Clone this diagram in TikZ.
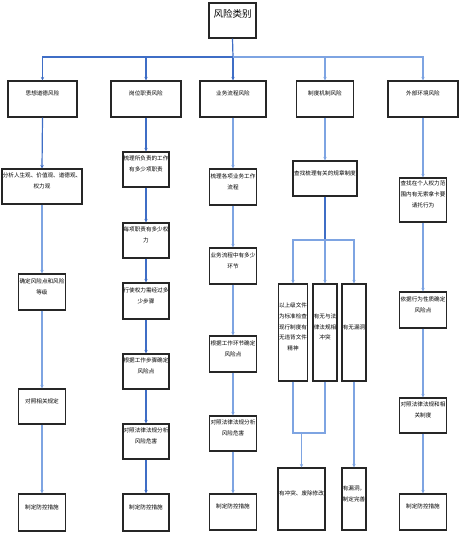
\documentclass[tikz,border=0pt]{standalone}
\usepackage{fontspec}
\setmainfont{Noto Sans CJK SC}
\usetikzlibrary{arrows.meta}
\definecolor{dblue}{HTML}{3F6EC6}
\definecolor{lblue}{HTML}{7EA4E2}
\newcommand\mybox[6]{%
  \node[boxstyle,minimum width=#4pt,minimum height=#5pt] (#1) at (#2,#3) {};
  \node[txtstyle] at ([yshift=5.5pt]#1.center) {#6};}
\begin{document}
\begin{tikzpicture}[x=1pt,y=-1pt,
  boxstyle/.style={draw=black!85,line width=1.1pt,fill=white,inner sep=0pt},
  txtstyle/.style={font=\fontsize{5.6}{10.8}\selectfont,align=center,inner sep=0pt},
  dk/.style={draw=dblue,line width=1.2pt},
  lt/.style={draw=lblue,line width=1.2pt},
  arr/.style={-{Stealth[length=3.5pt,width=3.5pt]}}]
\useasboundingbox (0,0) rectangle (460,533);
% top
\node[boxstyle,minimum width=47pt,minimum height=35pt] (T) at (232.5,20.5) {};
\node[inner sep=0pt,font=\fontsize{9.5}{11}\selectfont] at ([yshift=7pt]T.center) {风险类别};
% level 1
\mybox{A1}{42.5}{99}{69}{36}{思想道德风险}
\mybox{B1}{146}{99}{70}{36}{岗位职责风险}
\mybox{C1}{233}{99}{66}{36}{业务流程风险}
\mybox{D1}{325}{99}{57}{36}{制度机制风险}
\mybox{E1}{423}{99}{70}{36}{外部环境风险}
% column 1
\mybox{A2}{42}{186.5}{80}{35}{分析人生观、价值观、道德观、\\权力观}
\mybox{A3}{42}{292}{47}{36}{确定风险点和风险\\等级}
\mybox{A4}{42}{406.5}{47}{35}{对照相关规定}
\mybox{A5}{42}{512.5}{47}{37}{制定防控措施}
% column 2
\mybox{B2}{146}{169.5}{46}{35}{梳理所负责的工作\\有多少项职责}
\mybox{B3}{146}{240.5}{46}{35}{每项职责有多少权\\力}
\mybox{B4}{146}{301}{46}{36}{行使权力需经过多\\少步骤}
\mybox{B5}{146}{371.5}{46}{35}{根据工作步骤确定\\风险点}
\mybox{B6}{146}{441.5}{46}{35}{对照法律法规分析\\风险危害}
\mybox{B7}{146}{512.5}{46}{37}{制定防控措施}
% column 3
\mybox{C2}{233}{187}{47}{36}{梳理各项业务工作\\流程}
\mybox{C3}{233}{266}{47}{36}{业务流程中有多少\\环节}
\mybox{C4}{233}{354}{47}{36}{根据工作环节确定\\风险点}
\mybox{C5}{233}{433.5}{47}{35}{对照法律法规分析\\风险危害}
\mybox{C6}{233}{512}{47}{36}{制定防控措施}
% column 4
\mybox{D2}{325}{178.5}{64}{35}{查找梳理有关的规章制度}
\mybox{D3a}{293}{332.5}{29}{97}{以上级文件\\为标准检查\\现行制度有\\无违背文件\\精神}
\mybox{D3b}{325}{332.5}{24}{97}{有无与法\\律法规相\\冲突}
\mybox{D3c}{354}{332.5}{24}{97}{有无漏洞}
\mybox{D4a}{301.5}{499}{47}{62}{有冲突、废除修改}
\mybox{D4b}{354}{499}{24}{62}{有漏洞，\\制定完善}
% column 5
\mybox{E2}{423}{200}{47}{44}{查找在个人权力范\\围内有无索拿卡要\\请托行为}
\mybox{E3}{423}{310}{47}{36}{依据行为性质确定\\风险点}
\mybox{E4}{423}{415.5}{47}{35}{对照法律法规和相\\关制度}
\mybox{E5}{423}{512}{47}{36}{制定防控措施}
% hubs
\coordinate (hub) at (233,57);
\coordinate (hub4) at (325,240);
\coordinate (join4) at (301.5,433);
% top connectors
\draw[dk] (T.south) -- (hub);
\draw[dk,arr] (hub) -| (A1.north);
\draw[dk,arr] (hub) -| (B1.north);
\draw[dk,arr] (hub) -- (C1.north);
\draw[lt,arr] (hub) -| (D1.north);
\draw[lt,arr] (hub) -| (E1.north);
% column 1
\draw[dk,arr] (A1.south) -- (A2.north);
\draw[lt,arr] (A2.south) -- (A3.north);
\draw[lt,arr] (A3.south) -- (A4.north);
\draw[lt,arr] (A4.south) -- (A5.north);
% column 2
\draw[dk,arr] (B1.south) -- (B2.north);
\draw[dk,arr] (B2.south) -- (B3.north);
\draw[dk,arr] (B3.south) -- (B4.north);
\draw[dk,arr] (B4.south) -- (B5.north);
\draw[dk,arr] (B5.south) -- (B6.north);
\draw[dk,arr] (B6.south) -- (B7.north);
% column 3
\draw[lt,arr] (C1.south) -- (C2.north);
\draw[lt,arr] (C2.south) -- (C3.north);
\draw[lt,arr] (C3.south) -- (C4.north);
\draw[lt,arr] (C4.south) -- (C5.north);
\draw[lt,arr] (C5.south) -- (C6.north);
% column 4
\draw[lt,arr] (D1.south) -- (D2.north);
\draw[dk] (D2.south) -- (hub4);
\draw[lt,arr] (hub4) -| (D3a.north);
\draw[lt,arr] (hub4) -- (D3b.north);
\draw[lt,arr] (hub4) -| (D3c.north);
\draw[lt] (D3a.south) |- (join4);
\draw[lt] (D3b.south) |- (join4);
\draw[lt,arr] (join4) -- (D4a.north);
\draw[lt,arr] (D3c.south) -- (D4b.north);
% column 5
\draw[lt,arr] (E1.south) -- (E2.north);
\draw[lt,arr] (E2.south) -- (E3.north);
\draw[lt,arr] (E3.south) -- (E4.north);
\draw[lt,arr] (E4.south) -- (E5.north);
\end{tikzpicture}
\end{document}
